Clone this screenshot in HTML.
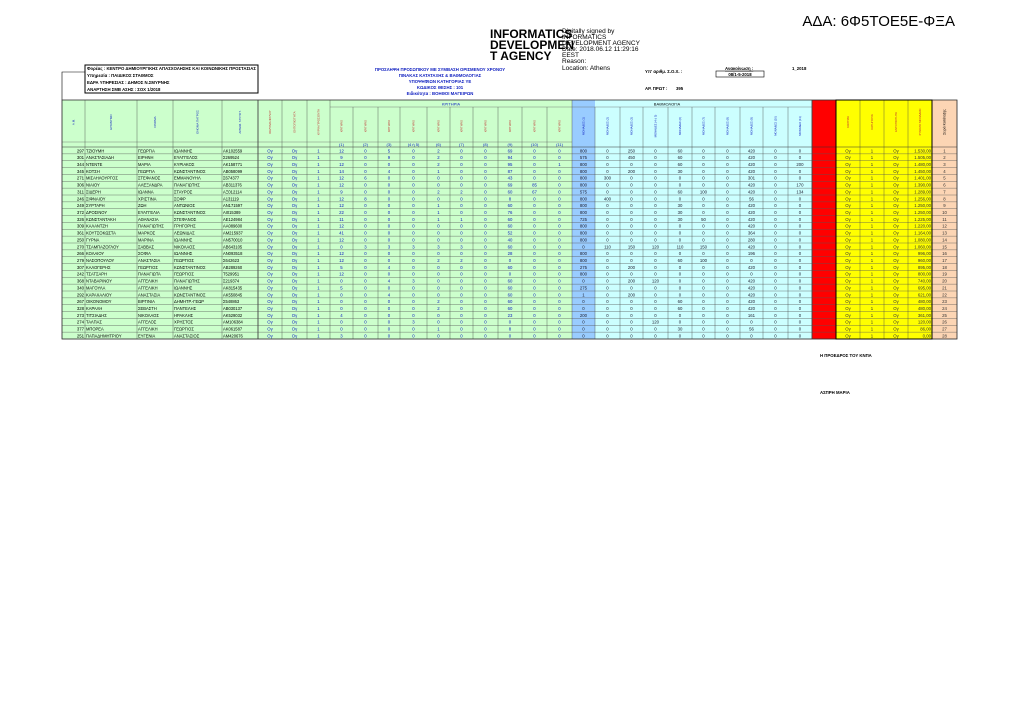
<!DOCTYPE html>
<html><head><meta charset="utf-8"><style>
html,body{margin:0;padding:0;background:#fff;width:1024px;height:724px;overflow:hidden}
svg{display:block;font-family:"Liberation Sans",sans-serif}
</style></head><body>
<svg id="s" width="1024" height="724" xmlns="http://www.w3.org/2000/svg">
<text x="955" y="26" font-size="15" text-anchor="end" fill="#000">ΑΔΑ: 6Φ5ΤΟΕ5Ε-ΦΞΑ</text>
<g font-size="12" font-weight="bold" fill="#000">
<text x="490" y="38">INFORMATICS</text><text x="490" y="49">DEVELOPMEN</text><text x="490" y="60">T AGENCY</text></g>
<g font-size="6.5" fill="#000">
<text x="562" y="33">Digitally signed by</text><text x="562" y="39">INFORMATICS</text><text x="562" y="45">DEVELOPMENT AGENCY</text>
<text x="562" y="51">Date: 2018.06.12 11:29:16</text><text x="562" y="57">EEST</text><text x="562" y="63">Reason:</text><text x="562" y="70">Location: Athens</text></g>
<rect x="85" y="65" width="173" height="28" fill="none" stroke="#000" stroke-width="1"/>
<polyline points="62,100 62,72 85,72" fill="none" stroke="#000" stroke-width="0.6"/>
<g font-size="4.3" font-weight="bold" fill="#000">
<text x="87" y="70">Φορέας : ΚΕΝΤΡΟ ΔΗΜΙΟΥΡΓΙΚΗΣ ΑΠΑΣΧΟΛΗΣΗΣ ΚΑΙ ΚΟΙΝΩΝΙΚΗΣ ΠΡΟΣΤΑΣΙΑΣ</text>
<text x="87" y="77">Υπηρεσία : ΠΑΙΔΙΚΟΣ ΣΤΑΘΜΟΣ</text>
<text x="87" y="84">ΕΔΡΑ ΥΠΗΡΕΣΙΑΣ : ΔΗΜΟΣ Ν.ΣΜΥΡΝΗΣ</text>
<text x="87" y="91">ΑΝΑΡΤΗΣΗ ΣΜΒ ΑΣΗΣ : ΣΟΧ 1/2018</text></g>
<g font-size="4.3" font-weight="bold" fill="#1020c0" text-anchor="middle">
<text x="440" y="71">ΠΡΟΣΛΗΨΗ ΠΡΟΣΩΠΙΚΟΥ ΜΕ ΣΥΜΒΑΣΗ ΟΡΙΣΜΕΝΟΥ ΧΡΟΝΟΥ</text>
<text x="440" y="77">ΠΙΝΑΚΑΣ ΚΑΤΑΤΑΞΗΣ &amp; ΒΑΘΜΟΛΟΓΙΑΣ</text>
<text x="440" y="83">ΥΠΟΨΗΦΙΩΝ ΚΑΤΗΓΟΡΙΑΣ ΥΕ</text>
<text x="440" y="89">ΚΩΔΙΚΟΣ ΘΕΣΗΣ : 101</text>
<text x="440" y="95">Ειδικότητα : ΒΟΗΘΟΙ ΜΑΓΕΙΡΩΝ</text></g>
<g font-size="4.3" font-weight="bold" fill="#000">
<text x="645" y="73">Υπ' αριθμ. Σ.Ο.Χ. :</text>
<text x="725" y="70" text-decoration="underline">Ανακοίνωση :</text>
<text x="792" y="70">1_2018</text>
<rect x="716" y="71" width="48" height="6" fill="none" stroke="#000" stroke-width="0.6"/>
<text x="740" y="76" text-anchor="middle">08/1-5-2018</text>
<text x="645" y="90">ΑΡ. ΠΡΩΤ :</text><text x="676" y="90">395</text>
<text x="820" y="357">Η ΠΡΟΕΔΡΟΣ ΤΟΥ ΚΝΠΑ</text>
<text x="820" y="394">ΑΣΠΡΗ ΜΑΡΙΑ</text></g>
<g id="tbl"></g>
</svg>
<script>
(function(){
var X=[62,85,137,173,222,258,282,307,330,353,378,400,427,450,473,498,522,547,572,595,620,643,668,692,715,740,763,788,812,836,860,884,908,932,957];
var D=`297 ΤΖΙΟΥΜΗ ΓΕΩΡΓΙΑ ΙΩΑΝΝΗΣ ΑΚ102559 12 0 5 0 2 0 0 69 0 0 800 0 250 0 60 0 0 420 0 0 1.530,00
301 ΑΝΑΣΤΑΣΙΑΔΗ ΕΙΡΗΝΗ ΕΥΑΓΓΕΛΟΣ Σ269524 9 0 9 0 2 0 0 94 0 0 575 0 450 0 60 0 0 420 0 0 1.505,00
344 ΝΤΕΝΤΕ ΜΑΡΙΑ ΚΥΡΙΑΚΟΣ ΑΚ158771 12 0 0 0 2 0 0 95 0 1 800 0 0 0 60 0 0 420 0 200 1.480,00
345 ΚΟΤΣΗ ΓΕΩΡΓΙΑ ΚΩΝΣΤΑΝΤΙΝΟΣ ΑΒ058099 14 0 4 0 1 0 0 87 0 0 800 0 200 0 30 0 0 420 0 0 1.450,00
271 ΜΙΣΑΗΛΟΥΡΓΟΣ ΣΤΕΦΑΝΟΣ ΕΜΜΑΝΟΥΗΛ Σ674377 12 6 0 0 0 0 0 43 0 0 800 300 0 0 0 0 0 301 0 0 1.401,00
306 ΝΙΑΙΟΥ ΑΛΕΞΑΝΔΡΑ ΠΑΝΑΓΙΩΤΗΣ ΑΒ311376 12 0 0 0 0 0 0 69 85 0 800 0 0 0 0 0 0 420 0 170 1.390,00
311 ΣΙΔΕΡΗ ΙΩΑΝΝΑ ΣΤΑΥΡΟΣ ΑΞ012114 9 0 0 0 2 2 0 60 67 0 575 0 0 0 60 100 0 420 0 134 1.289,00
246 ΣΙΦΝΑΙΟΥ ΧΡΙΣΤΙΝΑ ΣΟΦΡ Α131119 12 8 0 0 0 0 0 8 0 0 800 400 0 0 0 0 0 56 0 0 1.256,00
249 ΣΥΡΤΑΡΗ ΖΩΗ ΑΝΤΩΝΙΟΣ ΑΝ171597 12 0 0 0 1 0 0 60 0 0 800 0 0 0 30 0 0 420 0 0 1.250,00
372 ΔΡΟΣΙΝΟΥ ΕΥΑΓΓΕΛΙΑ ΚΩΝΣΤΑΝΤΙΝΟΣ ΑΙ015389 22 0 0 0 1 0 0 76 0 0 800 0 0 0 30 0 0 420 0 0 1.250,00
326 ΚΩΝΣΤΑΝΤΑΚΗ ΑΘΑΝΑΣΙΑ ΣΤΕΦΑΝΟΣ ΑΕ124984 11 0 0 0 1 1 0 60 0 0 725 0 0 0 30 50 0 420 0 0 1.225,00
309 ΚΑΛΑΝΤΖΗ ΠΑΝΑΓΙΩΤΗΣ ΓΡΗΓΟΡΗΣ ΑΑ089600 12 0 0 0 0 0 0 60 0 0 800 0 0 0 0 0 0 420 0 0 1.220,00
361 ΚΟΥΤΣΟΚΩΣΤΑ ΜΑΡΚΟΣ ΛΕΩΝΙΔΑΣ ΑΜ215937 41 0 0 0 0 0 0 52 0 0 800 0 0 0 0 0 0 364 0 0 1.164,00
250 ΓΥΡΝΑ ΜΑΡΙΝΑ ΙΩΑΝΝΗΣ ΑΝ570010 12 0 0 0 0 0 0 40 0 0 800 0 0 0 0 0 0 280 0 0 1.080,00
270 ΤΣΑΜΠΑΖΟΓΛΟΥ ΣΑΒΒΑΣ ΝΙΚΟΛΑΟΣ ΑΒ643105 0 3 3 3 3 3 0 60 0 0 0 110 150 120 110 150 0 420 0 0 1.060,00
266 ΚΟΛΑΙΟΥ ΣΟΦΙΑ ΙΩΑΝΝΗΣ ΑΝ093518 12 0 0 0 0 0 0 28 0 0 800 0 0 0 0 0 0 196 0 0 996,00
279 ΝΑΣΟΠΟΥΛΟΥ ΑΝΑΣΤΑΣΙΑ ΓΕΩΡΓΙΟΣ Σ642623 12 0 0 0 2 2 0 0 0 0 800 0 0 0 60 100 0 0 0 0 960,00
307 ΚΑΛΟΓΕΡΗΣ ΓΕΩΡΓΙΟΣ ΚΩΝΣΤΑΝΤΙΝΟΣ ΑΒ289260 5 0 4 0 0 0 0 60 0 0 275 0 200 0 0 0 0 420 0 0 895,00
242 ΤΣΑΤΣΑΡΗ ΠΑΝΑΓΙΩΤΑ ΓΕΩΡΓΙΟΣ Τ529951 12 0 0 0 0 0 0 0 0 0 800 0 0 0 0 0 0 0 0 0 800,00
368 ΝΤΑΒΑΡΙΝΟΥ ΑΓΓΕΛΙΚΗ ΠΑΝΑΓΙΩΤΗΣ Σ219374 0 0 4 3 0 0 0 60 0 0 0 0 200 120 0 0 0 420 0 0 740,00
340 ΜΑΓΟΥΛΑ ΑΓΓΕΛΙΚΗ ΙΩΑΝΝΗΣ ΑΚ815435 5 0 0 0 0 0 0 60 0 0 275 0 0 0 0 0 0 420 0 0 695,00
292 ΚΑΡΑΧΑΛΙΟΥ ΑΝΑΣΤΑΣΙΑ ΚΩΝΣΤΑΝΤΙΝΟΣ ΑΚ550845 0 0 4 0 0 0 0 60 0 0 1 0 200 0 0 0 0 420 0 0 621,00
267 ΟΙΚΟΝΟΜΟΥ ΒΙΡΓΙΝΙΑ ΔΗΜΗΤΡ.-ΓΕΩΡ Σ548863 0 0 0 0 2 0 0 60 0 0 0 0 0 0 60 0 0 420 0 0 480,00
328 ΚΑΡΑΛΗ ΣΕΒΑΣΤΗ ΠΑΝΤΕΛΗΣ ΑΒ030137 0 0 0 0 2 0 0 60 0 0 0 0 0 0 60 0 0 420 0 0 480,00
273 ΤΙΤΣΙΑΔΗΣ ΝΙΚΟΛΑΟΣ ΗΡΑΚΛΗΣ ΑΚ529032 4 0 0 0 0 0 0 23 0 0 200 0 0 0 0 0 0 161 0 0 361,00
274 ΤΑΛΠΑΣ ΑΓΓΕΛΟΣ ΧΡΗΣΤΟΣ ΑΜ106384 0 0 0 3 0 0 0 0 0 0 0 0 0 120 0 0 0 0 0 0 120,00
377 ΜΠΟΡΕΑ ΑΓΓΕΛΙΚΗ ΓΕΩΡΓΙΟΣ ΑΚ061587 0 0 0 0 1 0 0 8 0 0 0 0 0 0 30 0 0 56 0 0 86,00
251 ΠΑΠΑΔΗΜΗΤΡΙΟΥ ΕΥΓΕΝΙΑ ΑΝΑΣΤΑΣΙΟΣ ΑΜ420676 3 0 0 0 0 0 0 0 0 0 0 0 0 0 0 0 0 0 0 0 0,00`.split("\n");
var NS="http://www.w3.org/2000/svg",g=document.getElementById("tbl");
function el(t,a,txt){var e=document.createElementNS(NS,t);for(var k in a)e.setAttribute(k,a[k]);if(txt!=null)e.textContent=txt;g.appendChild(e);return e}
function fill(i){if(i<18)return"#ccffcc";if(i==18)return"#99ccff";if(i<28)return"#ccffff";if(i==28)return"#ff0000";if(i<33)return"#ffff00";return"#fcd5b4"}
var T=100,H1=142,B=339,RH=(B-147)/28;
for(var i=0;i<34;i++)el("rect",{x:X[i],y:T,width:X[i+1]-X[i],height:B-T,fill:fill(i)});
el("line",{x1:330,y1:107,x2:812,y2:107,stroke:"#666","stroke-width":0.4});
el("text",{x:451,y:105.5,"font-size":4,"text-anchor":"middle",fill:"#1020c0"},"ΚΡΙΤΗΡΙΑ");
el("text",{x:667,y:105.5,"font-size":4,"text-anchor":"middle",fill:"#000"},"ΒΑΘΜΟΛΟΓΙΑ");
var labs=["(1)","(2)","(3)","(4 ή 5)","(6)","(7)","(8)","(9)","(10)","(11)"];
var hl=["Α.Μ.","ΕΠΩΝΥΜΟ","ΟΝΟΜΑ","ΟΝΟΜΑ ΠΑΤΡΟΣ","ΑΡΙΘΜ. ΤΑΥΤΟΤ.","ΚΩΛΥΜΑ ΦΥΛΟΥ","ΕΝΤΟΠΙΟΤΗΤΑ","ΚΥΡΙΑ ΠΡΟΣΟΝΤΑ"];
for(var i=0;i<34;i++){var cx=(X[i]+X[i+1])/2;
 if(i>=8&&i<18){el("text",{x:cx,y:146,"font-size":4,"text-anchor":"middle",fill:"#1020c0"},labs[i-8]);
   el("text",{transform:"translate("+(cx+1)+",126) rotate(-90)","font-size":2.6,"text-anchor":"middle",fill:"#c03030"},"ΚΡΙΤΗΡΙΟ");}
 else if(i>=18&&i<28){el("text",{transform:"translate("+(cx+1)+",126) rotate(-90)","font-size":2.8,"text-anchor":"middle",fill:"#1020c0"},"ΜΟΝΑΔΕΣ "+labs[i-18]);}
 else if(i<8){el("text",{transform:"translate("+(cx+1)+",122) rotate(-90)","font-size":3,"text-anchor":"middle",fill:i<5?"#1020c0":"#c03030"},hl[i]);}
 else if(i>28&&i<33){el("text",{transform:"translate("+(cx+1)+",122) rotate(-90)","font-size":2.8,"text-anchor":"middle",fill:"#c03030"},["ΚΩΛΥΜΑ","ΚΑΤΗΓΟΡΙΑ","ΕΝΤΟΠΙΟΤΗΤΑ","ΣΥΝΟΛΟ ΜΟΝΑΔΩΝ"][i-29]);}
 else if(i==33){el("text",{transform:"translate("+(cx+1)+",122) rotate(-90)","font-size":3.5,"text-anchor":"middle",fill:"#000"},"Σειρά Κατάταξης");}
}
el("line",{x1:62,y1:H1,x2:572,y2:H1,stroke:"#666","stroke-width":0.4});
el("line",{x1:62,y1:147,x2:957,y2:147,stroke:"#333","stroke-width":0.6});
for(var r=0;r<28;r++){var f=D[r].split(" "),y=147+RH*r,ty=y+RH-1.6;
 var cells=[f[0],f[1],f[2],f[3],f[4],"Ογ","Ογ","1"].concat(f.slice(5,25)).concat(["","Ογ","1","Ογ",f[25],String(r+1)]);
 for(var i=0;i<34;i++){var v=cells[i];if(!v)continue;var col="#1020c0";if(i>=1&&i<=4)col="#000";if(i>=18&&i<28)col="#223";if(i>28)col="#333";
  if(i==0)el("text",{x:X[1]-1,y:ty,"font-size":4.3,"text-anchor":"end",fill:"#000"},v);
  else if(i>=1&&i<=4)el("text",{x:X[i]+1,y:ty,"font-size":4.1,fill:col},v);
  else if(i==32)el("text",{x:X[33]-1,y:ty,"font-size":4.3,"text-anchor":"end",fill:col},v);
  else el("text",{x:(X[i]+X[i+1])/2,y:ty,"font-size":4.3,"text-anchor":"middle",fill:col},v);}
 el("line",{x1:62,y1:y+RH,x2:957,y2:y+RH,stroke:"#555","stroke-width":0.4});}
for(var i=0;i<X.length;i++){var yt=((i>8&&i<18)||(i>18&&i<28))?107:T;el("line",{x1:X[i],y1:yt,x2:X[i],y2:B,stroke:"#444","stroke-width":(i==5||i==28||i==29||i==33)?0.9:0.4});}
el("rect",{x:62,y:T,width:895,height:B-T,fill:"none",stroke:"#333","stroke-width":0.8});
el("rect",{x:836,y:T,width:96,height:B-T,fill:"none",stroke:"#000","stroke-width":1});
})();
</script>
</body></html>
